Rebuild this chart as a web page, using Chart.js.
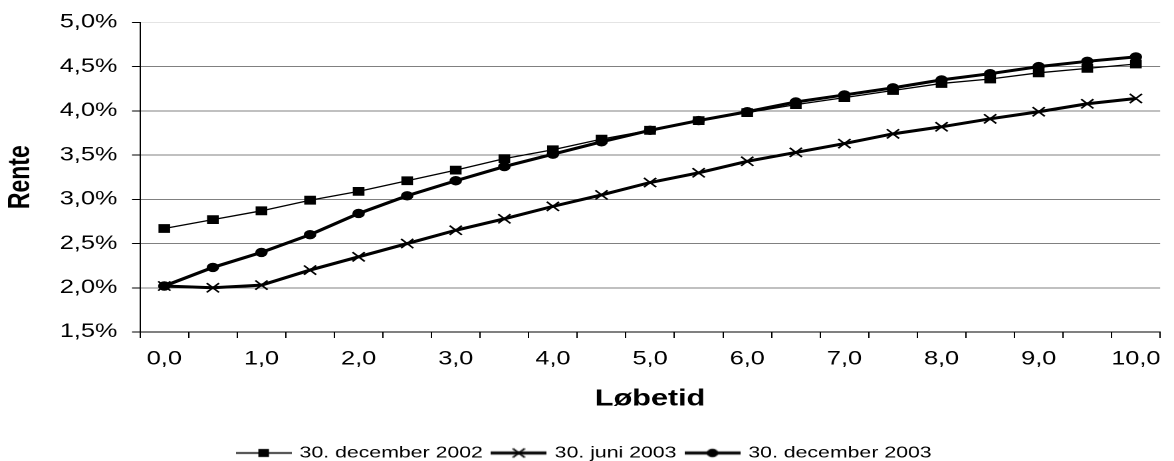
<!DOCTYPE html>
<html>
<head>
<meta charset="utf-8">
<script src="https://cdn.jsdelivr.net/npm/chart.js@4.4.1/dist/chart.umd.min.js"></script>
<style>
  html, body { margin: 0; padding: 0; background: #fff; }
</style>
</head>
<body>
<!-- the original chart is stretched sideways, so the canvas is drawn narrow and widened -->
<canvas id="c" width="883" height="461" style="display:block;width:1174px;height:461px"></canvas>
<script>
/* data */
const categories = ['0,0', '0,5', '1,0', '1,5', '2,0', '2,5', '3,0', '3,5', '4,0', '4,5', '5,0',
                    '5,5', '6,0', '6,5', '7,0', '7,5', '8,0', '8,5', '9,0', '9,5', '10,0'];
const seriesNames = ['30. december 2002', '30. juni 2003', '30. december 2003'];
const dec2002 = [2.67, 2.77, 2.87, 2.99, 3.09, 3.21, 3.33, 3.46, 3.56, 3.68, 3.78,
                 3.89, 3.98, 4.07, 4.15, 4.23, 4.31, 4.36, 4.43, 4.48, 4.53];
const jun2003 = [2.02, 2.00, 2.03, 2.20, 2.35, 2.50, 2.65, 2.78, 2.92, 3.05, 3.19,
                 3.30, 3.43, 3.53, 3.63, 3.74, 3.82, 3.91, 3.99, 4.08, 4.14];
const dec2003 = [2.02, 2.23, 2.40, 2.60, 2.84, 3.04, 3.21, 3.37, 3.51, 3.65, 3.78,
                 3.89, 3.99, 4.10, 4.18, 4.26, 4.35, 4.42, 4.50, 4.56, 4.61];
const yMin = 1.5, yMax = 5.0, yStep = 0.5;
const xTitle = 'Løbetid';
const yTitle = 'Rente';

const FONT = 'Arial, "Liberation Sans", sans-serif';

/* legend sample: line with the marker in the middle */
function legendSample(style, lw) {
    let c = document.createElement('canvas');
    c.width = 42;
    c.height = 16;
    let g = c.getContext('2d');
    g.strokeStyle = '#000';
    g.fillStyle = '#000';
    g.lineWidth = lw;
    g.beginPath();
    g.moveTo(0, 8);
    g.lineTo(42, 8);
    g.stroke();
    if (style === 'rect') {
        g.fillRect(17, 4, 8, 8);
    } else if (style === 'circle') {
        g.beginPath();
        g.arc(21, 8, 4.3, 0, Math.PI * 2);
        g.fill();
    } else {
        g.lineWidth = 1.5;
        g.beginPath();
        g.moveTo(16.5, 3.5); g.lineTo(25.5, 12.5);
        g.moveTo(25.5, 3.5); g.lineTo(16.5, 12.5);
        g.stroke();
    }
    return c;
}

const datasets = [
    { label: seriesNames[0], data: dec2002, borderColor: '#000', backgroundColor: '#000',
      borderWidth: 1.3, pointStyle: 'rect', pointRadius: 5.5, pointBorderWidth: 1, order: 3 },
    { label: seriesNames[1], data: jun2003, borderColor: '#000', backgroundColor: '#000',
      borderWidth: 3, pointStyle: 'crossRot', pointRadius: 6.5, pointBorderWidth: 1.5, order: 2 },
    { label: seriesNames[2], data: dec2003, borderColor: '#000', backgroundColor: '#000',
      borderWidth: 3, pointStyle: 'circle', pointRadius: 4.2, pointBorderWidth: 1, order: 1 }
];

const chart = new Chart(document.getElementById('c').getContext('2d'), {
    type: 'line',
    data: { labels: categories, datasets: datasets },
    options: {
        responsive: false,
        animation: false,
        devicePixelRatio: 2,
        layout: { padding: { top: 22, right: 3, bottom: -10, left: 0 } },
        elements: { line: { tension: 0 } },
        scales: {
            x: {
                offset: true,
                grid: { offset: true, drawOnChartArea: false, drawTicks: true, tickLength: 6,
                        color: '#000', tickColor: '#000' },
                border: { display: true, color: '#000', width: 1 },
                ticks: {
                    autoSkip: false, maxRotation: 0, padding: 10, color: '#000',
                    font: { family: FONT, size: 19 },
                    callback: (v, i) => (i % 2 === 0 ? categories[i] : '')
                },
                title: { display: true, text: xTitle, color: '#000', padding: { top: 0, bottom: 24 },
                         font: { family: FONT, size: 23, weight: 'bold' } },
                afterFit: (s) => { s.height = 105; }
            },
            y: {
                min: yMin, max: yMax,
                grid: {
                    drawTicks: true, tickLength: 6, tickColor: '#000', lineWidth: 1,
                    color: (ctx) => (ctx.tick && ctx.tick.value === yMax ? '#e4e4e4' : '#808080')
                },
                border: { display: true, color: '#000', width: 1 },
                ticks: {
                    stepSize: yStep, padding: 11, color: '#000',
                    font: { family: FONT, size: 19 },
                    callback: (v) => v.toFixed(1).replace('.', ',') + '%'
                },
                title: { display: true, text: yTitle, color: '#000', padding: { top: 2, bottom: 0 },
                         font: { family: FONT, size: 23, weight: 'bold' } },
                afterFit: (s) => { s.width = 105.3; }
            }
        },
        plugins: {
            tooltip: { enabled: false },
            legend: {
                position: 'bottom',
                labels: {
                    usePointStyle: true,
                    pointStyleWidth: 38,
                    padding: 8,
                    color: '#000',
                    font: { family: FONT, size: 16 },
                    generateLabels: (ch) => ch.data.datasets.map((ds, i) => ({
                        text: ds.label,
                        datasetIndex: i,
                        pointStyle: legendSample(ds.pointStyle, ds.borderWidth),
                        fillStyle: '#000',
                        strokeStyle: '#000',
                        lineWidth: 0,
                        hidden: false
                    }))
                }
            }
        }
    }
});
</script>
</body>
</html>
